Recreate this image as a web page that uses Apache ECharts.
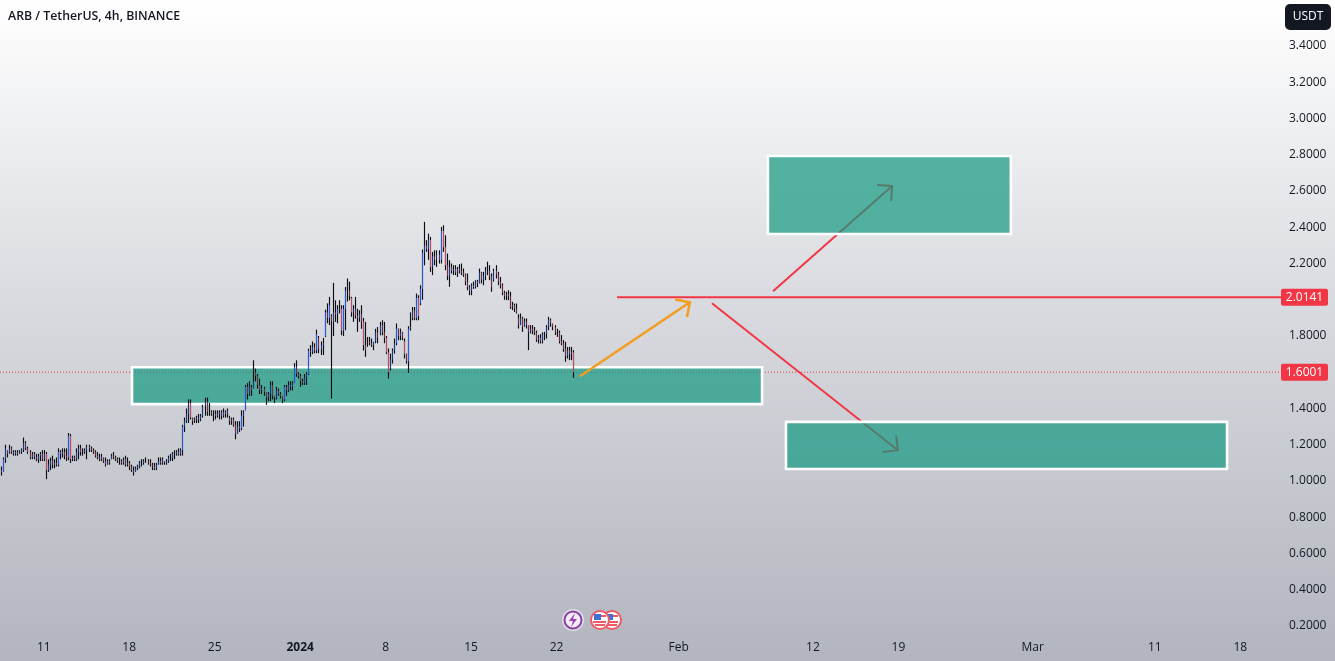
<!DOCTYPE html>
<html><head><meta charset="utf-8"><title>ARB / TetherUS</title>
<style>html,body{margin:0;padding:0;background:#fff}#c{width:1335px;height:661px}</style>
<script src="https://cdn.jsdelivr.net/npm/echarts@6/dist/echarts.min.js"></script></head>
<body><div id="c"></div>
<script>
const firstBar = '2023-12-07T12:00:00Z';
const barHours = 4;
const highs = [1.08,1.13,1.20,1.17,1.20,1.19,1.17,1.17,1.17,1.17,
1.18,1.24,1.22,1.19,1.17,1.16,1.16,1.15,1.15,1.16,
1.17,1.17,1.16,1.12,1.13,1.14,1.12,1.13,1.18,1.17,
1.18,1.18,1.18,1.265,1.26,1.14,1.14,1.18,1.20,1.20,
1.18,1.18,1.20,1.20,1.19,1.18,1.17,1.16,1.15,1.15,
1.13,1.13,1.12,1.12,1.15,1.16,1.14,1.13,1.13,1.12,
1.13,1.14,1.13,1.11,1.09,1.08,1.08,1.09,1.11,1.12,
1.12,1.13,1.12,1.12,1.10,1.10,1.10,1.13,1.13,1.13,
1.11,1.12,1.14,1.15,1.16,1.17,1.17,1.18,1.18,1.31,
1.35,1.40,1.45,1.45,1.35,1.35,1.36,1.37,1.37,1.42,
1.46,1.46,1.43,1.39,1.39,1.39,1.39,1.39,1.39,1.40,
1.39,1.40,1.36,1.35,1.35,1.33,1.33,1.33,1.39,1.39,
1.53,1.54,1.55,1.53,1.666,1.62,1.59,1.565,1.53,1.52,
1.49,1.49,1.55,1.55,1.47,1.52,1.51,1.49,1.47,1.53,
1.53,1.55,1.55,1.55,1.65,1.666,1.60,1.59,1.565,1.59,
1.60,1.73,1.75,1.77,1.76,1.835,1.80,1.77,1.79,1.945,
1.98,2.016,1.92,2.093,1.997,1.97,1.997,1.97,1.97,2.07,
2.117,2.10,2.016,1.97,2.016,1.95,1.942,1.97,1.90,1.878,
1.795,1.795,1.786,1.768,1.84,1.85,1.878,1.887,1.878,1.80,
1.731,1.703,1.731,1.786,1.869,1.841,1.841,1.823,1.786,1.703,
1.854,1.93,1.96,1.96,2.034,2.025,2.08,2.277,2.43,2.329,
2.365,2.347,2.264,2.273,2.273,2.273,2.402,2.411,2.356,2.255,
2.218,2.20,2.191,2.191,2.181,2.196,2.20,2.172,2.145,2.145,
2.08,2.09,2.10,2.108,2.11,2.172,2.154,2.154,2.181,2.21,
2.191,2.145,2.172,2.191,2.154,2.126,2.09,2.05,2.044,2.053,
2.044,1.989,1.979,1.979,1.92,1.924,1.906,1.897,1.897,1.86,
1.86,1.86,1.85,1.83,1.805,1.81,1.82,1.823,1.86,1.906,
1.897,1.869,1.86,1.84,1.83,1.805,1.777,1.768,1.74,1.74,
1.74,1.722];
const lows = [1.03,1.05,1.10,1.13,1.15,1.15,1.14,1.14,1.14,1.15,
1.15,1.16,1.17,1.15,1.12,1.12,1.12,1.11,1.10,1.11,
1.11,1.11,1.01,1.05,1.06,1.07,1.07,1.08,1.08,1.12,
1.13,1.12,1.11,1.115,1.10,1.11,1.11,1.11,1.12,1.14,
1.14,1.15,1.12,1.16,1.16,1.15,1.13,1.12,1.11,1.11,
1.10,1.08,1.09,1.09,1.12,1.12,1.11,1.10,1.09,1.09,
1.09,1.08,1.08,1.06,1.05,1.03,1.05,1.06,1.07,1.08,
1.09,1.10,1.09,1.08,1.06,1.06,1.06,1.09,1.09,1.09,
1.09,1.09,1.10,1.11,1.11,1.12,1.14,1.14,1.14,1.14,
1.27,1.32,1.32,1.34,1.31,1.32,1.32,1.32,1.33,1.35,
1.36,1.36,1.36,1.36,1.33,1.34,1.35,1.34,1.34,1.35,
1.35,1.35,1.31,1.31,1.30,1.23,1.26,1.27,1.28,1.30,
1.39,1.45,1.47,1.47,1.51,1.55,1.51,1.48,1.48,1.47,
1.42,1.44,1.44,1.45,1.43,1.45,1.47,1.455,1.43,1.44,
1.47,1.49,1.50,1.50,1.54,1.575,1.565,1.52,1.53,1.53,
1.53,1.585,1.685,1.70,1.705,1.705,1.705,1.695,1.695,1.795,
1.87,1.86,1.455,1.80,1.878,1.87,1.924,1.804,1.80,1.832,
1.99,1.997,1.906,1.878,1.896,1.823,1.878,1.84,1.72,1.685,
1.74,1.749,1.74,1.722,1.76,1.76,1.804,1.804,1.76,1.70,
1.565,1.61,1.648,1.703,1.749,1.777,1.777,1.777,1.676,1.648,
1.597,1.83,1.887,1.887,1.887,1.887,1.97,2.0,2.19,2.264,
2.22,2.154,2.136,2.19,2.181,2.20,2.20,2.264,2.163,2.108,
2.071,2.145,2.136,2.136,2.126,2.145,2.136,2.126,2.08,2.053,
2.025,2.025,2.06,2.062,2.07,2.09,2.09,2.08,2.108,2.136,
2.108,2.044,2.10,2.117,2.08,2.062,2.025,2.0,1.998,1.998,
1.95,1.943,1.933,1.924,1.841,1.86,1.823,1.85,1.841,1.722,
1.814,1.81,1.805,1.768,1.759,1.759,1.759,1.777,1.786,1.832,
1.851,1.832,1.805,1.795,1.759,1.749,1.713,1.658,1.676,1.667,
1.667,1.569];
const closes = [1.05,1.12,1.18,1.15,1.18,1.16,1.15,1.16,1.15,1.16,
1.17,1.21,1.18,1.16,1.13,1.15,1.13,1.12,1.14,1.15,
1.12,1.15,1.06,1.09,1.11,1.09,1.10,1.09,1.16,1.15,
1.16,1.14,1.13,1.25,1.12,1.13,1.12,1.16,1.18,1.16,
1.16,1.17,1.19,1.18,1.17,1.16,1.14,1.13,1.12,1.14,
1.11,1.09,1.11,1.10,1.14,1.13,1.12,1.11,1.11,1.10,
1.12,1.09,1.10,1.08,1.06,1.05,1.07,1.08,1.10,1.10,
1.11,1.11,1.10,1.09,1.08,1.07,1.09,1.11,1.10,1.12,
1.10,1.11,1.13,1.13,1.15,1.15,1.16,1.15,1.17,1.30,
1.33,1.37,1.43,1.35,1.33,1.34,1.35,1.34,1.36,1.41,
1.44,1.38,1.38,1.37,1.37,1.36,1.37,1.38,1.36,1.38,
1.37,1.39,1.33,1.34,1.31,1.26,1.30,1.29,1.36,1.38,
1.52,1.48,1.52,1.50,1.55,1.58,1.53,1.50,1.51,1.49,
1.46,1.48,1.53,1.47,1.46,1.50,1.48,1.47,1.45,1.52,
1.50,1.53,1.52,1.54,1.63,1.59,1.58,1.55,1.54,1.57,
1.59,1.72,1.71,1.74,1.72,1.81,1.73,1.75,1.76,1.93,
1.90,1.97,1.88,1.93,1.92,1.95,1.95,1.83,1.95,2.05,
2.05,2.02,1.93,1.95,1.91,1.90,1.92,1.88,1.75,1.72,
1.77,1.76,1.75,1.77,1.82,1.79,1.86,1.82,1.79,1.71,
1.60,1.67,1.72,1.76,1.84,1.80,1.82,1.79,1.70,1.66,
1.84,1.85,1.94,1.90,2.01,1.91,2.06,2.26,2.30,2.28,
2.33,2.18,2.24,2.22,2.25,2.22,2.38,2.29,2.19,2.13,
2.18,2.16,2.17,2.15,2.17,2.16,2.15,2.14,2.10,2.07,
2.05,2.08,2.07,2.10,2.09,2.15,2.11,2.13,2.16,2.16,
2.13,2.07,2.16,2.14,2.10,2.08,2.04,2.02,2.03,2.02,
1.96,1.97,1.95,1.93,1.86,1.90,1.85,1.88,1.86,1.82,
1.84,1.83,1.82,1.78,1.79,1.77,1.81,1.81,1.85,1.89,
1.87,1.85,1.82,1.82,1.77,1.76,1.73,1.69,1.72,1.70,
1.71,1.60];
const opens = [1.06,1.05,1.12,1.17,1.15,1.18,1.16,1.15,1.16,1.15,
1.16,1.17,1.21,1.18,1.16,1.13,1.15,1.13,1.12,1.14,
1.15,1.12,1.15,1.06,1.09,1.11,1.09,1.10,1.09,1.16,
1.15,1.16,1.14,1.13,1.25,1.12,1.13,1.12,1.16,1.18,
1.16,1.16,1.17,1.19,1.18,1.17,1.16,1.14,1.13,1.12,
1.13,1.11,1.09,1.11,1.12,1.14,1.13,1.12,1.11,1.11,
1.10,1.12,1.09,1.10,1.08,1.06,1.05,1.07,1.08,1.10,
1.10,1.11,1.11,1.10,1.09,1.08,1.07,1.09,1.11,1.10,
1.11,1.10,1.11,1.13,1.13,1.15,1.15,1.16,1.15,1.17,
1.30,1.33,1.37,1.43,1.35,1.33,1.34,1.35,1.34,1.36,
1.41,1.44,1.38,1.38,1.37,1.37,1.36,1.37,1.38,1.36,
1.38,1.37,1.35,1.33,1.34,1.31,1.26,1.30,1.29,1.36,
1.39,1.52,1.48,1.52,1.51,1.60,1.58,1.53,1.50,1.51,
1.49,1.46,1.48,1.53,1.47,1.46,1.50,1.48,1.47,1.45,
1.52,1.50,1.53,1.52,1.54,1.63,1.59,1.58,1.55,1.54,
1.57,1.59,1.72,1.71,1.74,1.72,1.79,1.73,1.75,1.80,
1.93,1.90,1.91,1.88,1.93,1.92,1.95,1.95,1.83,1.95,
2.05,2.05,2.01,1.93,1.95,1.91,1.90,1.92,1.88,1.75,
1.77,1.77,1.76,1.75,1.77,1.82,1.81,1.86,1.82,1.79,
1.71,1.62,1.67,1.72,1.76,1.84,1.80,1.82,1.77,1.70,
1.66,1.84,1.90,1.94,1.90,2.01,1.98,2.06,2.26,2.30,
2.28,2.33,2.18,2.24,2.22,2.25,2.22,2.38,2.29,2.19,
2.13,2.18,2.16,2.17,2.15,2.17,2.16,2.15,2.14,2.10,
2.07,2.05,2.08,2.07,2.10,2.09,2.15,2.11,2.13,2.16,
2.16,2.13,2.11,2.16,2.14,2.10,2.08,2.04,2.02,2.03,
2.02,1.96,1.97,1.95,1.90,1.86,1.90,1.85,1.88,1.86,
1.82,1.84,1.83,1.82,1.78,1.79,1.77,1.81,1.81,1.85,
1.89,1.87,1.85,1.82,1.82,1.77,1.76,1.73,1.69,1.72,
1.70,1.71];

const tickDates = ['2023-12-11','2023-12-18','2023-12-25','2024-01-01','2024-01-08','2024-01-15','2024-01-22','2024-02-01','2024-02-12','2024-02-19','2024-03-01','2024-03-11','2024-03-18'];
const tickLabels = ['11','18','25','2024','8','15','22','Feb','12','19','Mar','11','18'];

// [start, end, top price, bottom price]
const zones = [
  ['2023-12-18T05:30','2024-02-07T20:00',1.628,1.424],
  ['2024-02-08T07:30','2024-02-28T05:00',2.793,2.363],
  ['2024-02-09T19:00','2024-03-16T22:00',1.326,1.066]
];
// [start, start price, end, end price]
const redArrows = [
  ['2024-02-08T17:30',2.047,'2024-02-18T11:30',2.628],
  ['2024-02-03T17:30',1.981,'2024-02-18T23:00',1.170]
];
const orangeArrows = [['2024-01-23T22:00',1.578,'2024-02-01T22:00',1.986]];
const levelPrices = [2.0141,1.6001];
const levelStarts = ['2024-01-26T23:00','2023-12-07T10:00'];
const levelDashed = [false,true];
const axisStart = '2023-12-07T10:00';
const axisEnd = '2024-03-21T10:00';

const T = s => new Date(s.length === 10 ? s + 'T00:00:00Z' : (s.endsWith('Z') ? s : s + 'Z')).getTime();
const t0 = T(firstBar);
const barData = highs.map((h, i) => [t0 + i * barHours * 3600e3, opens[i], h, lows[i], closes[i]]);
const tickTimes = tickDates.map(T);
const RED = '#F23645', BLUE = '#2962FF', INK = '#131722', FONT = '"Open Sans","Noto Sans",sans-serif';

function renderBar(p, api) {
  const x = api.coord([api.value(0), 1])[0];
  const yo = api.coord([t0, api.value(1)])[1], yh = api.coord([t0, api.value(2)])[1];
  const yl = api.coord([t0, api.value(3)])[1], yc = api.coord([t0, api.value(4)])[1];
  const up = api.value(4) >= api.value(1);
  const px = Math.round(x) + 0.5;
  const longBody = Math.abs(yo - yc) > 12;
  return { type: 'group', children: [
    { type: 'line', shape: { x1: px, y1: yh, x2: px, y2: yl }, style: { stroke: '#0b0d12', lineWidth: 1.15 } },
    { type: 'line', shape: { x1: px, y1: yo, x2: px, y2: yc }, style: { stroke: up ? BLUE : '#D9506A', lineWidth: 1, opacity: longBody ? 0.9 : 0.5 } }
  ]};
}
function renderZone(p, api) {
  const a = api.coord([T(zones[p.dataIndex][0]), api.value(2)]);
  const b = api.coord([T(zones[p.dataIndex][1]), api.value(3)]);
  return { type: 'rect', shape: { x: a[0], y: a[1], width: b[0] - a[0], height: b[1] - a[1] },
    style: { fill: 'rgba(18,152,128,0.7)', stroke: '#fff', lineWidth: 2.6 } };
}
function arrowRenderer(list, color, width) {
  return function (p, api) {
    const r = list[p.dataIndex];
    const a = api.coord([T(r[0]), r[1]]), b = api.coord([T(r[2]), r[3]]);
    const ang = Math.atan2(a[1] - b[1], a[0] - b[0]), L = 15, s = Math.PI / 4;
    const h1 = [b[0] + L * Math.cos(ang + s), b[1] + L * Math.sin(ang + s)];
    const h2 = [b[0] + L * Math.cos(ang - s), b[1] + L * Math.sin(ang - s)];
    return { type: 'group', children: [
      { type: 'line', shape: { x1: a[0], y1: a[1], x2: b[0], y2: b[1] }, style: { stroke: color, lineWidth: width } },
      { type: 'polyline', shape: { points: [h1, b, h2] }, style: { stroke: color, lineWidth: width, fill: 'none' } }
    ]};
  };
}
function renderLevel(p, api) {
  const i = p.dataIndex;
  const a = api.coord([T(levelStarts[i]), levelPrices[i]]);
  const e = api.coord([T(axisEnd), levelPrices[i]]);
  return { type: 'line', shape: { x1: a[0], y1: a[1], x2: e[0], y2: e[1] },
    style: levelDashed[i] ? { stroke: RED, lineWidth: 1, lineDash: [1, 2] } : { stroke: RED, lineWidth: 2 } };
}
function renderTag(p, api) {
  const i = p.dataIndex;
  const e = api.coord([T(axisEnd), levelPrices[i]]);
  return { type: 'group', children: [
    { type: 'rect', shape: { x: e[0] - 1, y: e[1] - 8.5, width: 47, height: 17, r: 2 }, style: { fill: RED } },
    { type: 'text', style: { x: e[0] + 22.5, y: e[1] + 0.5, text: levelPrices[i].toFixed(4), fill: '#fff', font: '12px ' + FONT, align: 'center', verticalAlign: 'middle' } }
  ]};
}
function flag(cx, cy) {
  return { type: 'group', children: [
    { type: 'circle', shape: { cx, cy, r: 9 }, style: { fill: '#fff', stroke: '#EE5A66', lineWidth: 2 } },
    { type: 'rect', shape: { x: cx - 6, y: cy - 6, width: 7, height: 6 }, style: { fill: '#3F6FD8' } },
    { type: 'rect', shape: { x: cx + 1, y: cy - 5, width: 5, height: 2 }, style: { fill: '#EE5A66' } },
    { type: 'rect', shape: { x: cx - 7, y: cy + 1, width: 13, height: 2 }, style: { fill: '#EE5A66' } },
    { type: 'rect', shape: { x: cx - 5, y: cy + 4, width: 10, height: 2 }, style: { fill: '#EE5A66' } }
  ]};
}
const chart = echarts.init(document.getElementById('c'), null, { renderer: 'canvas' });
chart.setOption({
  animation: false,
  backgroundColor: { type: 'linear', x: 0, y: 0, x2: 0, y2: 1, colorStops: [
    { offset: 0, color: '#FFFFFF' }, { offset: 0.45, color: '#D9DBE0' }, { offset: 1, color: '#B2B5BE' } ] },
  title: { text: 'ARB / TetherUS, 4h, BINANCE', left: 8, top: 10, padding: 0,
    textStyle: { color: INK, fontFamily: FONT, fontSize: 12.3, fontWeight: 600 } },
  grid: { left: 0, right: 53, top: 46, bottom: 35 },
  xAxis: { type: 'value', min: T(axisStart), max: T(axisEnd), splitLine: { show: false },
    axisLine: { show: false }, axisTick: { show: false },
    axisLabel: { customValues: tickTimes, margin: 16, hideOverlap: false, showMinLabel: true, showMaxLabel: true, color: INK, fontFamily: FONT, fontSize: 12,
      formatter: v => { const l = tickLabels[tickTimes.indexOf(v)]; return l === '2024' ? '{b|2024}' : (l || ''); },
      rich: { b: { fontWeight: 700, color: INK, fontFamily: FONT, fontSize: 12 } } } },
  yAxis: { type: 'value', position: 'right', min: 0.2, max: 3.4, interval: 0.2, splitLine: { show: false },
    axisLine: { show: false }, axisTick: { show: false },
    axisLabel: { margin: 7, padding: [2, 0, 0, 0], color: INK, fontFamily: FONT, fontSize: 12, formatter: v => v.toFixed(4) } },
  series: [
    { type: 'custom', name: 'levels', z: 1, silent: true, clip: false, renderItem: renderLevel, data: levelPrices.map((v, i) => [T(levelStarts[i]), v]) },
    { type: 'custom', name: 'redArrows', z: 2, silent: true, clip: false, renderItem: arrowRenderer(redArrows, RED, 2), data: redArrows.map(r => [T(r[0]), r[1]]) },
    { type: 'custom', name: 'zones', z: 3, silent: true, clip: false, renderItem: renderZone, data: zones.map(r => [T(r[0]), T(r[1]), r[2], r[3]]) },
    { type: 'custom', name: 'ARBUSDT', z: 4, silent: true, clip: false, renderItem: renderBar, encode: { x: 0, y: [1, 2, 3, 4] }, data: barData },
    { type: 'custom', name: 'orangeArrows', z: 5, silent: true, clip: false, renderItem: arrowRenderer(orangeArrows, '#F39C1F', 2.5), data: orangeArrows.map(r => [T(r[0]), r[1]]) },
    { type: 'custom', name: 'tags', z: 6, silent: true, clip: false, renderItem: renderTag, data: levelPrices.map((v, i) => [T(axisEnd), v]) }
  ],
  graphic: [
    { type: 'group', silent: true, children: [
      { type: 'rect', shape: { x: 1285, y: 4, width: 46, height: 26, r: 5 }, style: { fill: '#131722' } },
      { type: 'text', style: { x: 1308, y: 17, text: 'USDT', fill: '#fff', font: '12px ' + FONT, align: 'center', verticalAlign: 'middle' } },
      { type: 'circle', shape: { cx: 573, cy: 620, r: 11 }, style: { fill: 'rgba(255,255,255,0.55)' } },
      { type: 'circle', shape: { cx: 573, cy: 620, r: 8.5 }, style: { fill: '#F3EEF6', stroke: '#8E3FA8', lineWidth: 2 } },
      { type: 'polygon', shape: { points: [[575,613],[569,621],[573,621],[571,627],[577,619],[573,619]] }, style: { fill: '#9B3FB5' } },
      flag(612, 620),
      flag(600, 620)
    ]}
  ]
});
</script></body></html>
